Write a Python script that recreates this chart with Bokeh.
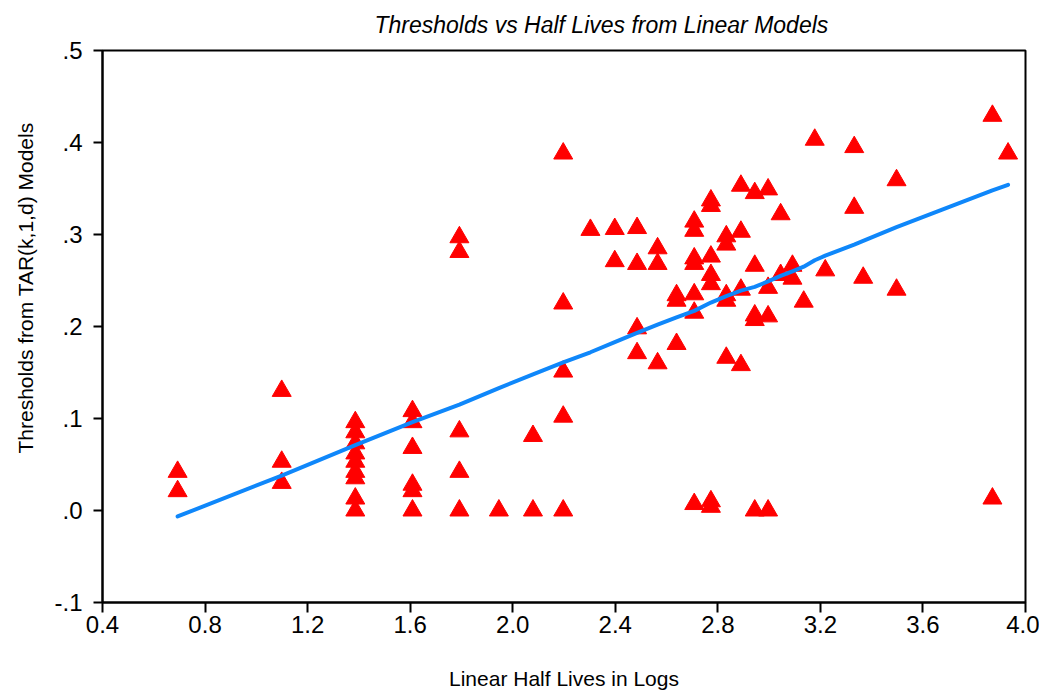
import math
from bokeh.plotting import figure
from bokeh.models import Range1d, FixedTicker, ColumnDataSource, Title
from bokeh.embed import file_html
from bokeh.resources import INLINE

# ---------------- data ----------------
half_lives_log = [
    0.693, 0.693,
    1.099, 1.099, 1.099,
    1.386, 1.386, 1.386, 1.386, 1.386, 1.386, 1.386, 1.386, 1.386,
    1.609, 1.609, 1.609, 1.609, 1.609, 1.609,
    1.792, 1.792, 1.792, 1.792, 1.792,
    1.946,
    2.079, 2.079,
    2.197, 2.197, 2.197, 2.197, 2.197,
    2.303,
    2.398, 2.398,
    2.485, 2.485, 2.485, 2.485,
    2.565, 2.565, 2.565,
    2.639, 2.639, 2.639,
    2.708, 2.708, 2.708, 2.708, 2.708, 2.708, 2.708,
    2.773, 2.773, 2.773, 2.773, 2.773, 2.773, 2.773,
    2.833, 2.833, 2.833, 2.833, 2.833,
    2.890, 2.890, 2.890, 2.890,
    2.944, 2.944, 2.944, 2.944, 2.944,
    2.996, 2.996, 2.996, 2.996,
    3.045, 3.045,
    3.091, 3.091,
    3.135,
    3.178,
    3.219,
    3.332, 3.332,
    3.367,
    3.497, 3.497,
    3.871, 3.871,
    3.932,
]
thresholds = [
    0.042, 0.021,
    0.130, 0.053, 0.030,
    0.096, 0.085, 0.073, 0.062, 0.053, 0.042, 0.035, 0.013, 0.000,
    0.108, 0.096, 0.068, 0.028, 0.021, 0.000,
    0.297, 0.281, 0.086, 0.042, 0.000,
    0.000,
    0.081, 0.000,
    0.388, 0.225, 0.151, 0.102, 0.000,
    0.305,
    0.306, 0.271,
    0.307, 0.268, 0.198, 0.171,
    0.285, 0.268, 0.160,
    0.234, 0.228, 0.181,
    0.314, 0.304, 0.274, 0.268, 0.235, 0.215, 0.007,
    0.337, 0.331, 0.276, 0.256, 0.246, 0.010, 0.004,
    0.298, 0.289, 0.234, 0.228, 0.166,
    0.353, 0.303, 0.240, 0.158,
    0.345, 0.266, 0.212, 0.207, 0.000,
    0.349, 0.242, 0.211, 0.000,
    0.322, 0.256,
    0.266, 0.252,
    0.227,
    0.403,
    0.261,
    0.395, 0.329,
    0.253,
    0.359, 0.240,
    0.429, 0.013,
    0.388,
]

fit_x = [0.693, 1.099, 1.386, 1.609, 1.792, 1.946, 2.079, 2.197, 2.303, 2.398,
         2.485, 2.565, 2.639, 2.708, 2.773, 2.833, 2.890, 2.944, 2.996, 3.045,
         3.091, 3.135, 3.178, 3.219, 3.332, 3.367, 3.497, 3.871, 3.932]
fit_y = [-0.0065, 0.038, 0.071, 0.096, 0.115, 0.133, 0.148, 0.161, 0.172, 0.183,
         0.193, 0.202, 0.210, 0.217, 0.226, 0.233, 0.239, 0.243, 0.249, 0.255,
         0.260, 0.265, 0.272, 0.277, 0.289, 0.293, 0.308, 0.348, 0.354]

x_ticks = [0.4, 0.8, 1.2, 1.6, 2.0, 2.4, 2.8, 3.2, 3.6, 4.0]
x_tick_labels = ["0.4", "0.8", "1.2", "1.6", "2.0", "2.4", "2.8", "3.2", "3.6", "4.0"]
y_ticks = [-0.1, 0.0, 0.1, 0.2, 0.3, 0.4, 0.5]
y_tick_labels = ["-.1", ".0", ".1", ".2", ".3", ".4", ".5"]

title_text = "Thresholds vs Half Lives from Linear Models"
x_label = "Linear Half Lives in Logs"
y_label = "Thresholds from TAR(k,1,d) Models"

FONT = "Liberation Sans"

# ---------------- figure ----------------
p = figure(width=1039, height=698,
           x_range=Range1d(0.4, 4.0), y_range=Range1d(-0.1, 0.5),
           output_backend="svg", toolbar_location=None,
           min_border_left=102, min_border_right=14,
           min_border_top=50, min_border_bottom=96,
           title=title_text)

p.background_fill_color = "white"
p.border_fill_color = "white"
p.grid.visible = False
p.outline_line_color = "black"
p.outline_line_width = 2
p.outline_line_alpha = 1.0

p.title.text_font = FONT
p.title.text_font_style = "italic"
p.title.text_font_size = "23px"
p.title.text_color = "black"
p.title.align = "left"
p.title.offset = 272
p.title.vertical_align = "top"
p.title.standoff = 22

for ax in (p.xaxis[0], p.yaxis[0]):
    ax.axis_line_width = 2
    ax.axis_line_color = "black"
    ax.major_tick_line_width = 2
    ax.major_tick_line_color = "black"
    ax.major_tick_in = 0
    ax.minor_tick_in = 0
    ax.minor_tick_out = 0
    ax.major_label_text_font = FONT
    ax.major_label_text_font_size = "24px"
    ax.major_label_text_color = "black"
    ax.axis_label_text_font = FONT
    ax.axis_label_text_font_style = "normal"
    ax.axis_label_text_font_size = "21px"
    ax.axis_label_text_color = "black"

p.xaxis.ticker = FixedTicker(ticks=x_ticks, minor_ticks=[])
p.xaxis.major_label_overrides = dict(zip(x_ticks, x_tick_labels))
p.xaxis.major_tick_out = 10
p.xaxis.major_label_standoff = 3
p.xaxis.axis_label = x_label
p.xaxis.axis_label_standoff = 31

p.yaxis.ticker = FixedTicker(ticks=y_ticks, minor_ticks=[])
p.yaxis.major_label_overrides = dict(zip(y_ticks, y_tick_labels))
p.yaxis.major_tick_out = 9
p.yaxis.major_label_standoff = 11

# y-axis title: a side Title so it can be shifted along the axis like the original
p.add_layout(Title(text=y_label, align="left", offset=149, vertical_align="top",
                   standoff=26, text_font=FONT, text_font_size="21px",
                   text_font_style="normal", text_color="black"), "left")

src = ColumnDataSource(dict(x=half_lives_log, y=thresholds))
p.scatter("x", "y", source=src, marker="triangle", size=19,
          fill_color="#FF0000", line_color="#FF0000", line_width=1,
          line_join="round")

p.line(fit_x, fit_y, line_color="#0F87FA", line_width=4, line_cap="round",
       line_join="round")

open("out.html", "w").write(file_html(p, INLINE))
